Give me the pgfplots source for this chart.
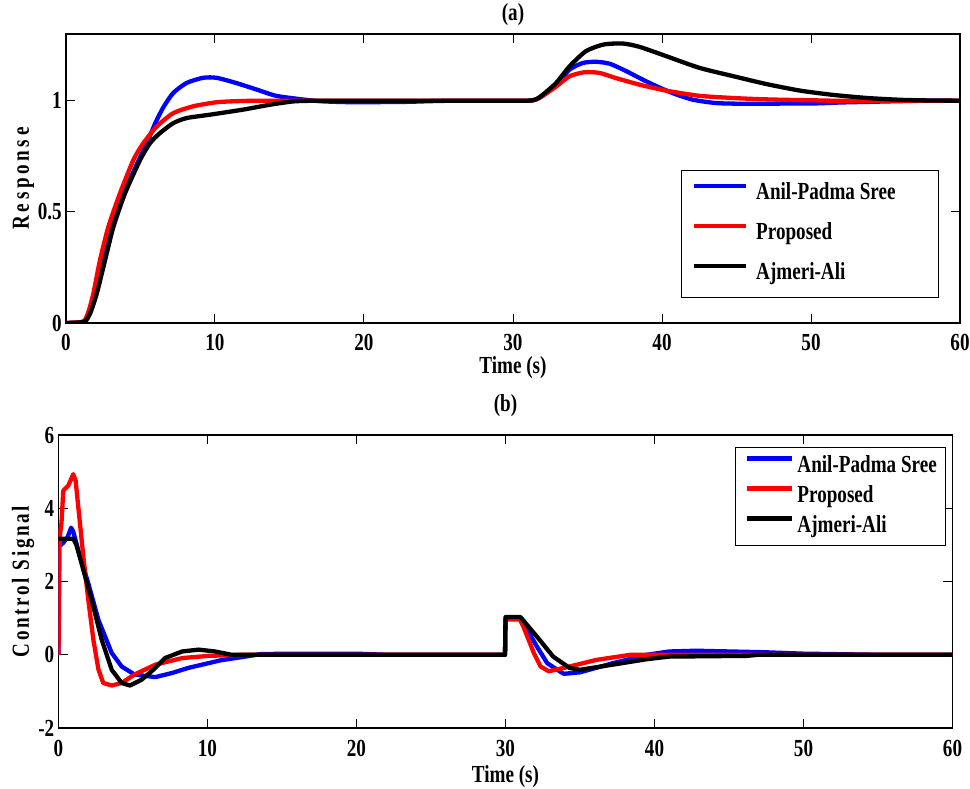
\documentclass[border=0pt]{standalone}
\usepackage{fontspec}
\setmainfont{Liberation Serif}[FakeStretch=0.78]
\usepackage{pgfplots}
\pgfplotsset{compat=1.18}
\newcommand{\ff}{\fontsize{24.5}{28}\selectfont\bfseries}
\pgfplotsset{
 myax/.style={
  scale only axis, width=894pt, xmin=0, xmax=60, xtick={0,10,...,60},
  axis line style={line width=1.2pt}, tick style={line width=1pt, black},
  major tick length=9pt, tick align=inside,
  tick label style={font=\ff},
  /pgf/number format/assume math mode=true,
  yticklabel style={anchor=east, inner sep=0pt, xshift=-4pt},
  label style={font=\ff},
  title style={font=\ff, at={(0.5,1)}, anchor=base},
  legend cell align=left,
  every axis plot/.append style={line width=4.3pt, line join=round},
 }
}
\begin{document}
\begin{tikzpicture}
\useasboundingbox (0,0) rectangle (970pt,-788pt);
% ---------------- (a)
\begin{axis}[myax, at={(66pt,-323pt)}, anchor=south west, height=289pt,
  ymin=0, ymax=1.3, ytick={0,0.5,1},
  xticklabel style={anchor=base, yshift=-27pt, inner sep=0pt},
  title={(a)}, title style={yshift=8pt},
  xlabel={Time (s)}, xlabel style={at={(axis description cs:0.5,0)}, anchor=base, yshift=-50pt},
  ylabel={\addfontfeature{LetterSpace=15}Response},
  ylabel style={at={(axis description cs:-0.0414,0.5)}, anchor=base},
  legend style={at={(0.9765,0.0865)}, anchor=south east, draw=black, line width=1pt, fill=white,
    inner xsep=10pt, inner ysep=12.3pt, row sep=17.5pt, column sep=8pt,
    nodes={inner sep=0pt, text height=17pt, text depth=5.5pt}, font=\ff},
  legend image code/.code={\draw[#1, line width=4.5pt] (0pt,8pt) -- (52pt,8pt);},
]
\addplot[blue, smooth, tension=0.4] coordinates {(0,0)(1.15,0.005)(1.5,0.03)(1.95,0.13)(2.5,0.28)(3.06,0.43)(3.85,0.58)(4.86,0.73)(5.5,0.82)(6.0,0.9)(6.53,0.97)(7.2,1.035)(8.1,1.08)(9.2,1.103)(10.1,1.103)(11.4,1.08)(12.8,1.05)(14.1,1.022)(15.7,1.007)(17,0.998)(18.5,0.994)(20,0.993)(21.5,0.994)(23,0.995)(24.5,0.998)(26,1.0)(28,1.0)(30,1.0)(30.8,1.0)(31.25,1.001)(31.6,1.007)
(32.0,1.022)(32.9,1.072)(33.8,1.14)(34.7,1.17)(35.6,1.175)(36.5,1.166)(37.6,1.133)(38.7,1.095)(39.9,1.057)(41.0,1.027)(42.1,1.004)(43.7,0.989)(45.9,0.986)(48,0.987)(50.4,0.988)(52,0.992)(54,0.995)(56,0.998)(58,1.0)(60,1.0)};
\addlegendentry{Anil-Padma Sree\hspace*{33pt}}
\addplot[red, smooth, tension=0.4] coordinates {(0,0)(1.16,0.007)(1.5,0.05)(1.83,0.131)(2.28,0.282)(2.84,0.432)(3.62,0.583)(4.52,0.733)(5.19,0.809)(6.09,0.884)(7.2,0.944)(8.55,0.975)(10.1,0.993)(11.5,0.998)(13,1.0)(16,1.0)(20,1.0)(24,1.0)(28,1.0)(30,1.0)(30.8,1.0)(31.25,1.001)(31.6,1.007)
(32,1.022)(32.9,1.064)(33.8,1.11)(34.8,1.128)(35.8,1.125)(36.9,1.102)(38.5,1.072)(40.3,1.045)(42.5,1.022)(44.8,1.012)(46.5,1.007)(48.2,1.004)(50,1.002)(51.5,1.0)(54,1.0)(57,1.0)(60,1.0)};
\addlegendentry{Proposed}
\addplot[black, smooth, tension=0.4] coordinates {(0,0)(1.2,0.005)(1.6,0.04)(2.06,0.131)(2.62,0.282)(3.18,0.432)(3.96,0.583)(4.97,0.733)(5.64,0.809)(6.3,0.854)(7.2,0.899)(8.1,0.922)(9.66,0.937)(11.9,0.96)(13.7,0.982)(15.3,0.997)(17,1.0)(20,1.0)(24,1.0)(28,1.0)(30,1.0)(30.8,1.0)(31.25,1.001)(31.6,1.008)
(32.0,1.027)(32.9,1.08)(33.8,1.155)(34.9,1.223)(36.1,1.253)(37.4,1.257)(38.5,1.242)(40.3,1.2)(42.5,1.148)(44.8,1.11)(47.0,1.075)(49.3,1.045)(51.5,1.026)(53.8,1.012)(56,1.004)(58,1.001)(60,1.0)};
\addlegendentry{Ajmeri-Ali}
\end{axis}
% ---------------- (b)
\begin{axis}[myax, at={(58.5pt,-728pt)}, anchor=south west, height=293pt,
  ymin=-2, ymax=6, ytick={-2,0,2,4,6},
  xticklabel style={anchor=base, yshift=-28pt, inner sep=0pt},
  title={(b)}, title style={yshift=18pt},
  xlabel={Time (s)}, xlabel style={at={(axis description cs:0.5,0)}, anchor=base, yshift=-54pt},
  ylabel={\addfontfeature{LetterSpace=11}Control Signal},
  ylabel style={at={(axis description cs:-0.033,0.5)}, anchor=base},
  legend style={at={(0.993,0.96)}, anchor=north east, draw=black, line width=1pt, fill=white,
    inner xsep=9pt, inner ysep=7.8pt, row sep=7.5pt, column sep=3pt,
    nodes={inner sep=0pt, text height=17pt, text depth=5.5pt}, font=\ff},
  legend image code/.code={\draw[#1, line width=4.5pt] (0pt,8pt) -- (45pt,8pt);},
]
\addplot[blue] coordinates {(0,0)(0.02,2.95)(0.3,3.05)(0.6,3.2)(0.85,3.47)(1.0,3.35)(1.33,2.85)(2.0,1.95)(2.68,0.95)(3.57,0.05)(4.24,-0.32)(5.1,-0.54)(6.5,-0.61)(7.6,-0.5)(8.7,-0.36)(10.9,-0.15)(12.7,-0.04)(13.6,0.02)(16,0.03)(20,0.03)(22,0)(29.97,0)
(30.0,0.97)(30.95,0.97)(31.2,0.86)(32.1,0.23)(32.8,-0.23)(33.9,-0.52)(35.0,-0.48)(37.2,-0.23)(39.5,0)(41.0,0.09)(42.8,0.11)(47.3,0.07)(50,0.03)(55,0)(60,0)};
\addlegendentry{Anil-Padma Sree}
\addplot[red] coordinates {(0,0)(0.08,3.2)(0.2,3.6)(0.32,4.48)(0.66,4.62)(0.99,4.93)(1.15,4.75)(1.33,4.03)(1.67,2.67)(2.0,1.5)(2.34,0.41)(2.68,-0.4)(3.0,-0.77)(3.57,-0.84)(4.24,-0.77)(5.1,-0.54)(6.5,-0.27)(8.3,-0.09)(10.1,-0.03)(12.4,0)(29.97,0)
(30.0,0.97)(30.95,0.97)(31.2,0.77)(31.9,0.05)(32.35,-0.32)(32.9,-0.45)(33.9,-0.36)(36.1,-0.14)(38.4,0)(60,0)};
\addlegendentry{Proposed}
\addplot[black] coordinates {(0,3.17)(0.99,3.17)(1.2,3.0)(1.55,2.49)(2.23,1.49)(2.9,0.41)(3.57,-0.41)(4.24,-0.77)(4.8,-0.84)(5.58,-0.68)(6.36,-0.41)(7.15,-0.09)(8.3,0.09)(9.4,0.14)(10.5,0.09)(11.6,0)(29.97,0)
(30.0,1.03)(31.0,1.03)(32.1,0.5)(33.2,-0.05)(34.3,-0.36)(35.0,-0.41)(37.2,-0.27)(39.5,-0.12)(41.0,-0.05)(46.2,-0.03)(47,0)(60,0)};
\addlegendentry{Ajmeri-Ali}
\end{axis}
\end{tikzpicture}
\end{document}
